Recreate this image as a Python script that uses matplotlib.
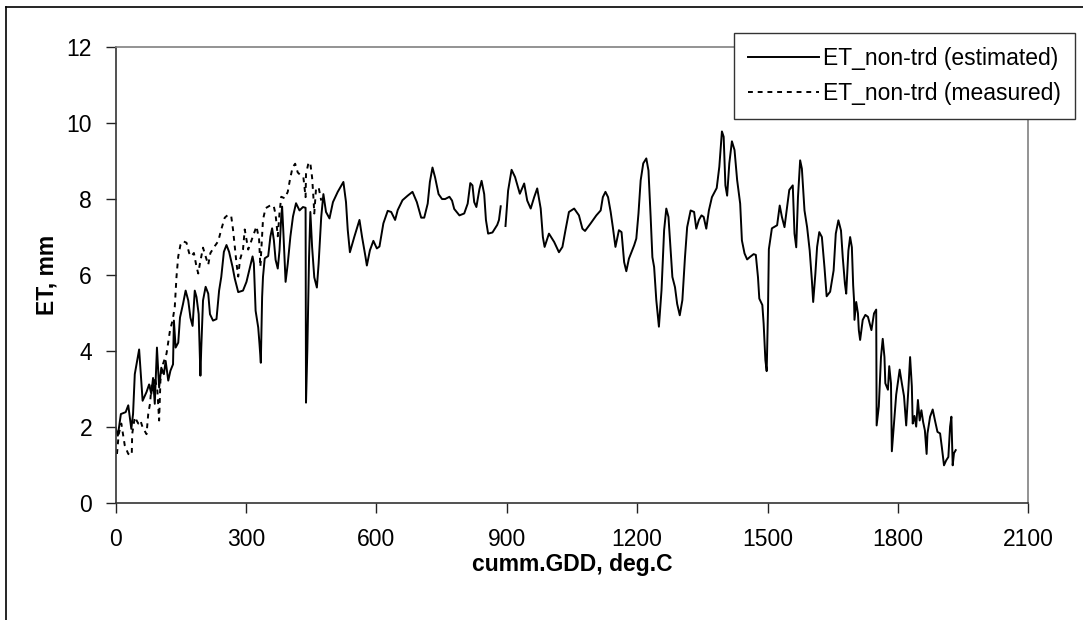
import matplotlib
matplotlib.use('Agg')
import matplotlib.pyplot as plt
from matplotlib.lines import Line2D
import numpy as np

plt.rcParams['font.family'] = ['Liberation Sans', 'DejaVu Sans']

# estimated ET (solid line), NaN marks the gap near 890 GDD
gdd_est = [0, 5, 12, 23, 29, 36, 40, 44, 54, 60, 62, 71, 77, 82, 86, 90, 95, 100, 105, 111,
           115, 121, 126, 132, 134, 138, 144, 148, 155, 161, 167, 172, 177, 182, 186, 191, 195, 197, 201, 207,
           213, 217, 224, 232, 238, 243, 249, 255, 261, 269, 274, 282, 293, 301, 315, 318, 322, 328, 331, 334,
           337, 339, 343, 351, 356, 360, 364, 368, 373, 377, 381, 383, 386, 391, 396, 402, 408, 415, 423, 431,
           437, 438, 441, 445, 448, 452, 457, 463, 467, 473, 478, 484, 492, 500, 511, 524, 530, 534, 539, 549,
           561, 567, 575, 578, 585, 593, 601, 607, 616, 626, 634, 643, 649, 660, 672, 683, 693, 703, 710, 718,
           723, 729, 735, 743, 751, 758, 768, 774, 779, 791, 802, 810, 816, 821, 825, 830, 837, 842, 848, 852,
           857, 867, 878, 882, 886, 891, 897, 903, 911, 919, 930, 940, 947, 955, 963, 970, 978, 983, 987, 997,
           1009, 1020, 1028, 1035, 1043, 1055, 1066, 1074, 1080, 1093, 1106, 1116, 1121, 1127, 1133, 1139, 1144, 1150, 1158, 1164,
           1170, 1175, 1181, 1193, 1198, 1203, 1208, 1214, 1221, 1226, 1231, 1235, 1239, 1244, 1250, 1256, 1262, 1267, 1272, 1277,
           1281, 1287, 1292, 1298, 1304, 1310, 1315, 1323, 1331, 1336, 1342, 1348, 1353, 1359, 1365, 1372, 1383, 1389, 1395, 1399,
           1403, 1407, 1412, 1418, 1424, 1430, 1437, 1441, 1447, 1453, 1460, 1468, 1473, 1478, 1481, 1488, 1491, 1495, 1498, 1501,
           1503, 1510, 1522, 1528, 1533, 1539, 1545, 1550, 1558, 1562, 1566, 1570, 1575, 1579, 1585, 1591, 1597, 1602, 1605, 1610,
           1614, 1619, 1625, 1631, 1636, 1644, 1652, 1657, 1663, 1669, 1673, 1678, 1681, 1686, 1690, 1694, 1697, 1699, 1700, 1704,
           1708, 1710, 1713, 1719, 1725, 1731, 1739, 1745, 1750, 1751, 1756, 1761, 1765, 1769, 1771, 1777, 1780, 1784, 1786, 1792,
           1796, 1800, 1804, 1809, 1814, 1819, 1824, 1828, 1832, 1834, 1838, 1842, 1846, 1850, 1854, 1858, 1862, 1866, 1868, 1874,
           1880, 1886, 1891, 1897, 1901, 1906, 1911, 1916, 1920, 1923, 1926, 1929, 1933]
et_est = [1.98, 1.78, 2.35, 2.40, 2.58, 1.96, 2.35, 3.40, 4.05, 3.05, 2.70, 2.93, 3.13, 2.88, 3.30, 2.62, 4.10, 3.05, 3.57, 3.40,
          3.75, 3.23, 3.49, 3.66, 4.81, 4.10, 4.23, 4.89, 5.25, 5.60, 5.34, 4.89, 4.67, 5.60, 5.43, 4.98, 3.36, 4.10, 5.34, 5.70,
          5.52, 4.98, 4.81, 4.85, 5.60, 5.96, 6.62, 6.80, 6.62, 6.22, 5.92, 5.56, 5.60, 5.83, 6.50, 6.31, 5.07, 4.63, 4.19, 3.70,
          5.43, 5.96, 6.45, 6.51, 7.02, 7.24, 6.93, 6.41, 6.18, 6.66, 7.54, 7.81, 7.11, 5.83, 6.31, 7.02, 7.55, 7.90, 7.71, 7.80,
          7.78, 2.65, 4.02, 6.48, 7.67, 6.75, 5.95, 5.68, 6.31, 7.54, 8.14, 7.67, 7.50, 7.93, 8.20, 8.46, 7.93, 7.20, 6.61, 7.01,
          7.46, 7.01, 6.48, 6.26, 6.66, 6.91, 6.71, 6.76, 7.37, 7.70, 7.67, 7.46, 7.72, 7.98, 8.10, 8.20, 7.93, 7.52, 7.52, 7.89,
          8.46, 8.84, 8.58, 8.14, 8.01, 8.01, 8.07, 7.97, 7.75, 7.58, 7.63, 7.89, 8.43, 8.37, 7.93, 7.80, 8.27, 8.49, 8.14, 7.46,
          7.10, 7.13, 7.33, 7.46, 7.82, np.nan, 7.30, 8.23, 8.78, 8.59, 8.15, 8.42, 7.97, 7.76, 8.06, 8.29, 7.76, 7.01, 6.75, 7.10,
          6.88, 6.61, 6.75, 7.19, 7.67, 7.76, 7.58, 7.23, 7.17, 7.37, 7.58, 7.71, 8.06, 8.20, 8.06, 7.67, 7.27, 6.75, 7.19, 7.14,
          6.35, 6.11, 6.44, 6.79, 6.97, 7.63, 8.50, 8.95, 9.08, 8.76, 7.54, 6.48, 6.22, 5.35, 4.65, 5.61, 7.19, 7.76, 7.54, 6.66,
          5.96, 5.69, 5.25, 4.95, 5.35, 6.48, 7.27, 7.71, 7.67, 7.23, 7.46, 7.58, 7.54, 7.23, 7.71, 8.06, 8.30, 8.86, 9.79, 9.65,
          8.37, 8.10, 8.95, 9.53, 9.30, 8.51, 7.89, 6.92, 6.58, 6.42, 6.49, 6.56, 6.54, 5.95, 5.39, 5.22, 4.73, 3.77, 3.48, 5.08,
          6.69, 7.24, 7.32, 7.84, 7.54, 7.27, 7.80, 8.25, 8.37, 7.10, 6.74, 8.06, 9.03, 8.81, 7.71, 7.27, 6.65, 5.87, 5.30, 6.04,
          6.75, 7.14, 7.01, 6.21, 5.45, 5.57, 6.13, 7.10, 7.45, 7.18, 6.48, 5.78, 5.52, 6.65, 7.01, 6.74, 5.74, 5.35, 4.83, 5.30,
          5.00, 4.56, 4.30, 4.83, 4.96, 4.91, 4.56, 5.00, 5.10, 2.05, 2.55, 3.85, 4.33, 3.85, 3.16, 2.99, 3.61, 3.16, 1.37, 2.28,
          2.86, 3.20, 3.52, 3.16, 2.82, 2.05, 3.00, 3.85, 3.08, 2.10, 2.30, 2.02, 2.72, 2.18, 2.45, 2.14, 1.92, 1.30, 1.84, 2.28,
          2.47, 2.14, 1.88, 1.84, 1.48, 1.00, 1.13, 1.22, 2.02, 2.28, 1.00, 1.32, 1.40]

# measured ET (dotted line)
gdd_meas = [3, 7, 13, 21, 29, 37, 38, 44, 52, 57, 62, 71, 75, 79, 83, 86, 90, 96, 100, 103,
            109, 117, 125, 131, 136, 140, 144, 149, 155, 163, 169, 174, 180, 186, 190, 194, 201, 207, 213, 218,
            228, 236, 243, 251, 259, 266, 270, 274, 278, 282, 286, 293, 297, 305, 324, 330, 333, 339, 345, 351,
            358, 364, 368, 373, 377, 381, 389, 396, 401, 407, 413, 419, 427, 432, 437, 438, 444, 448, 452, 455,
            457, 461, 467, 473]
et_meas = [1.30, 1.82, 2.10, 1.52, 1.30, 1.27, 1.82, 2.27, 2.10, 2.18, 2.00, 1.82, 2.36, 2.62, 3.15, 2.97, 3.32, 2.97, 2.18, 3.23,
           3.67, 3.94, 4.55, 4.82, 5.17, 5.97, 6.50, 6.80, 6.90, 6.86, 6.59, 6.50, 6.59, 6.23, 6.05, 6.32, 6.73, 6.50, 6.28, 6.59,
           6.77, 6.90, 7.21, 7.52, 7.60, 7.55, 7.21, 6.77, 6.32, 5.97, 6.41, 6.68, 7.21, 6.68, 7.29, 6.95, 6.23, 7.47, 7.77, 7.81,
           7.86, 7.81, 7.60, 7.03, 7.64, 8.07, 8.03, 8.20, 8.52, 8.84, 8.94, 8.71, 8.62, 8.58, 8.06, 8.67, 8.98, 8.94, 8.58, 8.06,
           7.63, 8.28, 8.32, 7.97]

x_ticks = [0, 300, 600, 900, 1200, 1500, 1800, 2100]
y_ticks = [0, 2, 4, 6, 8, 10, 12]

fig = plt.figure(figsize=(10.83, 6.2), dpi=100)
ax = fig.add_axes([0.1068, 0.1882, 0.8427, 0.7352])

ax.plot(gdd_est, et_est, color='black', lw=1.4, label='ET_non-trd (estimated)')
ax.plot(gdd_meas, et_meas, color='black', lw=1.4, linestyle=(0, (2.5, 2.5)),
        label='ET_non-trd (measured)')

ax.set_xlim(0, 2100)
ax.set_ylim(0, 12)
ax.set_xticks(x_ticks)
ax.set_yticks(y_ticks)
ax.tick_params(axis='both', direction='out', length=7, width=1, labelsize=16.5, color='#222222')
ax.tick_params(axis='x', pad=10.5)
ax.tick_params(axis='y', pad=10)

for side in ['left', 'bottom']:
    ax.spines[side].set_color('#333333')
    ax.spines[side].set_linewidth(1.2)
for side in ['top', 'right']:
    ax.spines[side].set_color('#808080')
    ax.spines[side].set_linewidth(1.2)

ax.set_xlabel('cumm.GDD, deg.C', fontsize=16.5, fontweight='bold', va='center')
ax.xaxis.set_label_coords(0.5, -0.135)
ax.set_ylabel('ET, mm', fontsize=16.5, fontweight='bold', va='center')
ax.yaxis.set_label_coords(-0.075, 0.5)

leg = ax.legend(loc='upper right', bbox_to_anchor=(1075 / 1083, 1 - 33 / 620),
                bbox_transform=fig.transFigure, borderaxespad=0, fontsize=16.5,
                frameon=True, fancybox=False, edgecolor='#333333', framealpha=1,
                handlelength=3.1, handletextpad=0.2, labelspacing=0.55,
                borderpad=0.6)
leg.get_frame().set_linewidth(1)

# outer chart frame (only top and left edges fall inside the image)
fig.add_artist(Line2D([6 / 1083, 6 / 1083], [0, 1 - 7 / 620], color='black', lw=1.2,
                      transform=fig.transFigure))
fig.add_artist(Line2D([6 / 1083, 1], [1 - 7 / 620, 1 - 7 / 620], color='black', lw=1.2,
                      transform=fig.transFigure))

plt.savefig('out.png', dpi=100)
